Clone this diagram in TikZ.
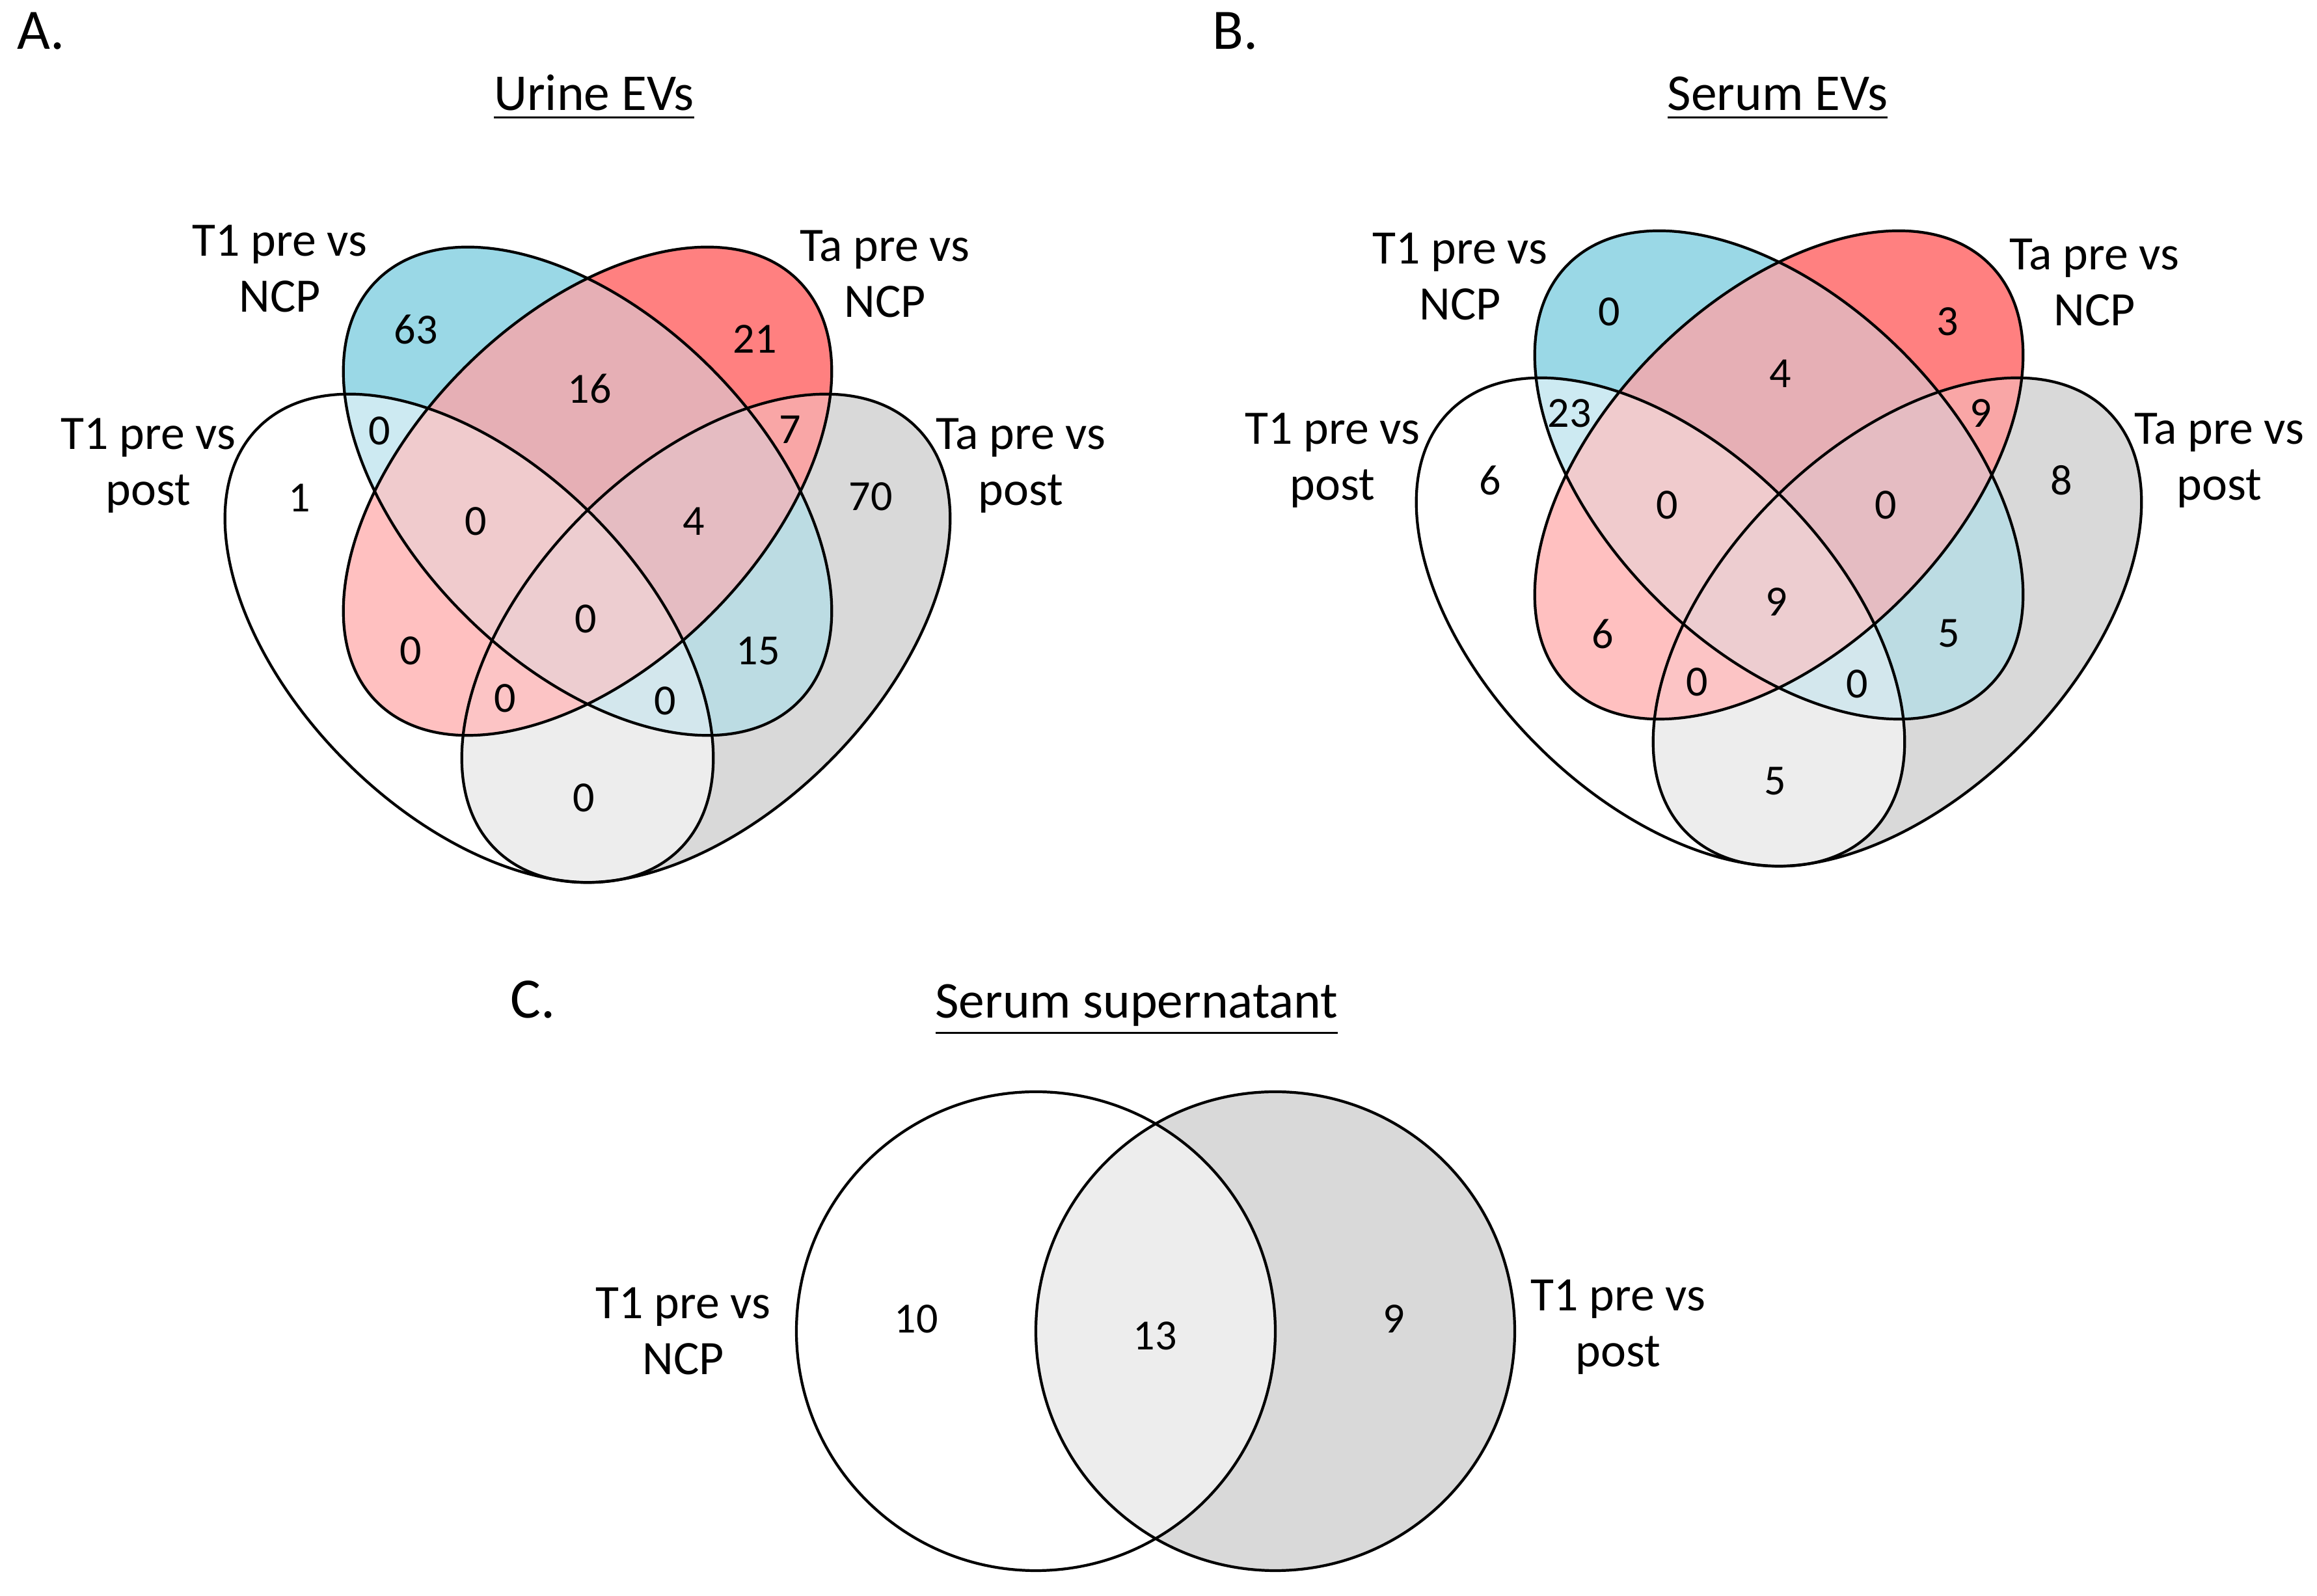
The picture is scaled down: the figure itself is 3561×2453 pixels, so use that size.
\documentclass[tikz,border=0pt]{standalone}
\usepackage{fontspec}
\setmainfont{Carlito}

\definecolor{cB}{HTML}{9AD8E6}
\definecolor{cR}{HTML}{FF8080}
\definecolor{cW}{HTML}{FFFFFF}
\definecolor{cG}{HTML}{D9D9D9}
\definecolor{cBR}{HTML}{E6AFB5}
\definecolor{cBW}{HTML}{CDEAF2}
\definecolor{cBG}{HTML}{BCDCE3}
\definecolor{cRW}{HTML}{FFC0C0}
\definecolor{cRG}{HTML}{F9A6A6}
\definecolor{cWG}{HTML}{EDEDED}
\definecolor{cBRW}{HTML}{F0CBCD}
\definecolor{cBRG}{HTML}{E5BCC2}
\definecolor{cBWG}{HTML}{D3E7ED}
\definecolor{cRWG}{HTML}{FCC4C5}
\definecolor{cAll}{HTML}{EDCDD0}

\tikzset{
  setB/.style={rotate around={-45:(903,755)}},
  setR/.style={rotate around={45:(903,755)}},
  setW/.style={rotate around={-45:(721,981)}},
  setG/.style={rotate around={45:(1085,981)}},
  setline/.style={draw=black, line width=0.6pt},
  setlabel/.style={font=\fontsize{10.5}{12.2}\selectfont, align=center, inner sep=0pt, anchor=north},
  count/.style={font=\fontsize{9.4}{11}\selectfont, inner sep=0pt},
  paneltitle/.style={font=\fontsize{11.3}{13}\selectfont, inner sep=0pt, anchor=base},
  panelletter/.style={font=\fontsize{12.5}{14}\selectfont, inner sep=0pt, anchor=base west}
}

\newcommand{\clipB}{\clip[setB] (903,755) ellipse [x radius=458, y radius=268];}
\newcommand{\clipR}{\clip[setR] (903,755) ellipse [x radius=458, y radius=268];}
\newcommand{\clipW}{\clip[setW] (721,981) ellipse [x radius=458, y radius=268];}
\newcommand{\clipG}{\clip[setG] (1085,981) ellipse [x radius=458, y radius=268];}
\newcommand{\region}[2]{\begin{scope}#1\fill[#2] (0,0) rectangle (1800,1450);\end{scope}}

\newcommand{\vennquad}{%
  \region{\clipB}{cB}
  \region{\clipR}{cR}
  \region{\clipW}{cW}
  \region{\clipG}{cG}
  \region{\clipB\clipR}{cBR}
  \region{\clipB\clipW}{cBW}
  \region{\clipB\clipG}{cBG}
  \region{\clipR\clipW}{cRW}
  \region{\clipR\clipG}{cRG}
  \region{\clipW\clipG}{cWG}
  \region{\clipB\clipR\clipW}{cBRW}
  \region{\clipB\clipR\clipG}{cBRG}
  \region{\clipB\clipW\clipG}{cBWG}
  \region{\clipR\clipW\clipG}{cRWG}
  \region{\clipB\clipR\clipW\clipG}{cAll}
  \draw[setline, setB] (903,755) ellipse [x radius=458, y radius=268];
  \draw[setline, setR] (903,755) ellipse [x radius=458, y radius=268];
  \draw[setline, setW] (721,981) ellipse [x radius=458, y radius=268];
  \draw[setline, setG] (1085,981) ellipse [x radius=458, y radius=268];
}

\begin{document}
\begin{tikzpicture}[x=0.05mm, y=-0.05mm]
  \fill[white] (0,0) rectangle (3561,2453);
  \useasboundingbox (0,0) rectangle (3561,2453);

  \begin{scope}
    \vennquad
  \end{scope}
  \begin{scope}[shift={(1831,-25)}]
    \vennquad
  \end{scope}

  \fill[cW] (1592,2046) circle [radius=368];
  \fill[cG] (1960,2046) circle [radius=368];
  \begin{scope}
    \clip (1592,2046) circle [radius=368];
    \fill[cWG] (1960,2046) circle [radius=368];
  \end{scope}
  \draw[setline] (1592,2046) circle [radius=368];
  \draw[setline] (1960,2046) circle [radius=368];

  \path
    (25,76) node[panelletter] (letA) {A.}
    (1862,76) node[panelletter] (letB) {B.}
    (783,1565) node[panelletter] (letC) {C.}
    (913,170) node[paneltitle] (titA) {\underline{Urine EVs}}
    (2732,170) node[paneltitle] (titB) {\underline{Serum EVs}}
    (1747,1565) node[paneltitle] (titC) {\underline{Serum supernatant}};

  \path
    (430,345) node[setlabel] (uLabB) {T1 pre vs\\NCP}
    (1360,353) node[setlabel] (uLabR) {Ta pre vs\\NCP}
    (228,642) node[setlabel] (uLabW) {T1 pre vs\\post}
    (1569,642) node[setlabel] (uLabG) {Ta pre vs\\post}
    (2244,357) node[setlabel] (sLabB) {T1 pre vs\\NCP}
    (3219,366) node[setlabel] (sLabR) {Ta pre vs\\NCP}
    (2048,634) node[setlabel] (sLabW) {T1 pre vs\\post}
    (3411,634) node[setlabel] (sLabG) {Ta pre vs\\post}
    (1050,1978) node[setlabel] (pLabW) {T1 pre vs\\NCP}
    (2487,1966) node[setlabel] (pLabG) {T1 pre vs\\post};

  \path
    (639,506) node[count] (uB) {63}
    (1160,521) node[count] (uR) {21}
    (906,597) node[count] (uBR) {16}
    (583,662) node[count] (uBW) {0}
    (1214,660) node[count] (uRG) {7}
    (460,765) node[count] (uW) {1}
    (1338,763) node[count] (uG) {70}
    (731,801) node[count] (uBRW) {0}
    (1066,801) node[count] (uBRG) {4}
    (900,951) node[count] (uAll) {0}
    (631,1000) node[count] (uRW) {0}
    (1165,1000) node[count] (uBG) {15}
    (776,1073) node[count] (uRWG) {0}
    (1022,1077) node[count] (uBWG) {0}
    (897,1226) node[count] (uWG) {0};

  \path
    (2473,479) node[count] (sB) {0}
    (2993,494) node[count] (sR) {3}
    (2736,574) node[count] (sBR) {4}
    (2412,635) node[count] (sBW) {23}
    (3044,635) node[count] (sRG) {9}
    (2290,738) node[count] (sW) {6}
    (3168,738) node[count] (sG) {8}
    (2562,776) node[count] (sBRW) {0}
    (2898,776) node[count] (sBRG) {0}
    (2730,925) node[count] (sAll) {9}
    (2463,974) node[count] (sRW) {6}
    (2995,974) node[count] (sBG) {5}
    (2608,1048) node[count] (sRWG) {0}
    (2854,1051) node[count] (sBWG) {0}
    (2728,1201) node[count] (sWG) {5};

  \path
    (1408,2027) node[count] (pW) {10}
    (1775,2053) node[count] (pWG) {13}
    (2142,2027) node[count] (pG) {9};
\end{tikzpicture}
\end{document}
